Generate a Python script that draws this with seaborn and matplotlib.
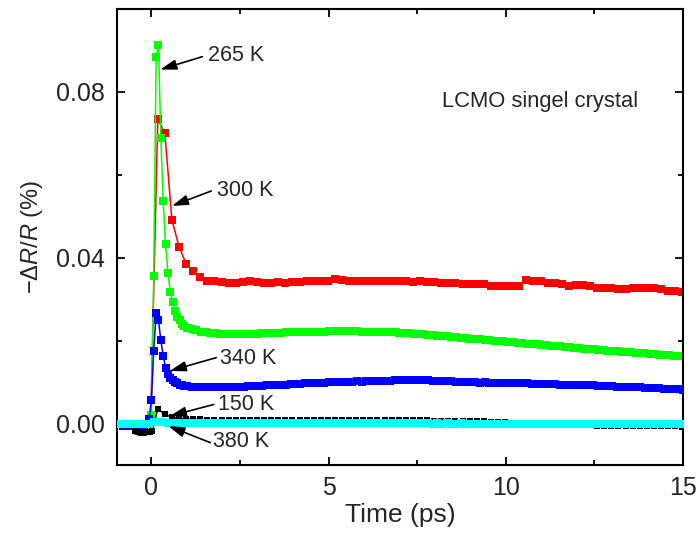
import numpy as np
import pandas as pd
import matplotlib
matplotlib.use("Agg")
import matplotlib.pyplot as plt
import seaborn as sns

# ---------------- data ----------------
# 300 K (red): time grid step 0.2 ps
t_300K = np.round(np.arange(80) * 0.2 - 0.82, 3)
v_300K = [0.0000, 0.0000, 0.0000, 0.0000, 0.0005, 0.0735, 0.0700, 0.0491, 0.0427, 0.0385,
          0.0367, 0.0354, 0.0345, 0.0344, 0.0341, 0.0340, 0.0340, 0.0341, 0.0343, 0.0341,
          0.0340, 0.0339, 0.0341, 0.0339, 0.0342, 0.0342, 0.0343, 0.0343, 0.0343, 0.0345,
          0.0348, 0.0346, 0.0344, 0.0344, 0.0344, 0.0344, 0.0344, 0.0344, 0.0344, 0.0344,
          0.0343, 0.0342, 0.0344, 0.0341, 0.0342, 0.0340, 0.0339, 0.0338, 0.0337, 0.0336,
          0.0336, 0.0336, 0.0333, 0.0331, 0.0333, 0.0333, 0.0331, 0.0347, 0.0345, 0.0344,
          0.0339, 0.0339, 0.0337, 0.0333, 0.0335, 0.0335, 0.0332, 0.0327, 0.0327, 0.0327,
          0.0325, 0.0325, 0.0326, 0.0326, 0.0327, 0.0327, 0.0325, 0.0320, 0.0319, 0.0317]

# 265 K (green) and 340 K (blue): shared time grid
t_dense = np.round(np.concatenate([[-0.8, -0.6, -0.4, -0.2],
                                   np.arange(-1, 16) / 15,
                                   1 + np.arange(1, 106) * 2 / 15]), 4)
v_265K = [0.0000, 0.0000, -0.0002, 0.0000,
          0.0003, 0.0020, 0.0356, 0.0885, 0.0914, 0.0690, 0.0537, 0.0434, 0.0364, 0.0317,
          0.0292, 0.0272, 0.0258, 0.0249, 0.0241, 0.0235, 0.0231,
          0.0228, 0.0225, 0.0222, 0.0220, 0.0219, 0.0218, 0.0217, 0.0216, 0.0216, 0.0216, 0.0216, 0.0216, 0.0217, 0.0217, 0.0217,
          0.0218, 0.0218, 0.0218, 0.0219, 0.0219, 0.0220, 0.0220, 0.0221, 0.0221, 0.0221, 0.0222, 0.0222, 0.0222, 0.0222, 0.0223,
          0.0223, 0.0223, 0.0223, 0.0223, 0.0223, 0.0223, 0.0222, 0.0222, 0.0222, 0.0222, 0.0221, 0.0221, 0.0220, 0.0220, 0.0219,
          0.0218, 0.0218, 0.0217, 0.0216, 0.0215, 0.0214, 0.0213, 0.0212, 0.0211, 0.0210, 0.0209, 0.0208, 0.0207, 0.0206, 0.0205,
          0.0204, 0.0203, 0.0202, 0.0201, 0.0200, 0.0199, 0.0198, 0.0197, 0.0196, 0.0195, 0.0194, 0.0193, 0.0192, 0.0191, 0.0190,
          0.0189, 0.0188, 0.0187, 0.0186, 0.0185, 0.0184, 0.0183, 0.0182, 0.0181, 0.0180, 0.0179, 0.0178, 0.0177, 0.0176, 0.0175,
          0.0174, 0.0173, 0.0172, 0.0172, 0.0171, 0.0170, 0.0169, 0.0168, 0.0167, 0.0166, 0.0166, 0.0165, 0.0164, 0.0163, 0.0162]
v_340K = [-0.0007, -0.0007, -0.0008, -0.0006,
          0.0010, 0.0056, 0.0175, 0.0266, 0.0250, 0.0201, 0.0164, 0.0135, 0.0120, 0.0111,
          0.0105, 0.0100, 0.0097, 0.0094, 0.0092, 0.0091, 0.0090,
          0.0089, 0.0089, 0.0088, 0.0088, 0.0088, 0.0088, 0.0088, 0.0088, 0.0089, 0.0088, 0.0089, 0.0089, 0.0090, 0.0090, 0.0091,
          0.0091, 0.0092, 0.0092, 0.0093, 0.0094, 0.0094, 0.0095, 0.0096, 0.0096, 0.0097, 0.0098, 0.0098, 0.0099, 0.0099, 0.0100,
          0.0100, 0.0100, 0.0101, 0.0101, 0.0101, 0.0102, 0.0101, 0.0102, 0.0102, 0.0103, 0.0102, 0.0103, 0.0103, 0.0104, 0.0104,
          0.0104, 0.0104, 0.0105, 0.0104, 0.0104, 0.0104, 0.0103, 0.0103, 0.0103, 0.0102, 0.0102, 0.0101, 0.0101, 0.0101, 0.0100,
          0.0100, 0.0099, 0.0100, 0.0099, 0.0099, 0.0098, 0.0098, 0.0098, 0.0097, 0.0098, 0.0097, 0.0097, 0.0096, 0.0096, 0.0096,
          0.0095, 0.0096, 0.0095, 0.0094, 0.0094, 0.0094, 0.0093, 0.0093, 0.0092, 0.0092, 0.0092, 0.0091, 0.0091, 0.0090, 0.0090,
          0.0089, 0.0089, 0.0088, 0.0088, 0.0087, 0.0087, 0.0086, 0.0086, 0.0085, 0.0085, 0.0084, 0.0084, 0.0083, 0.0083, 0.0082]

# 150 K (black): dense before zero, then 0.2 ps steps
t_150K = np.round(np.concatenate([[-0.45, -0.37, -0.29, -0.21, -0.13, -0.05, 0.03],
                                  np.arange(75) * 0.2 + 0.18]), 3)
v_150K = [-0.0019, -0.0021, -0.0022, -0.0022, -0.0021, -0.0020, -0.0017,
          0.0036, 0.0022, 0.0015, 0.0012, 0.0011, 0.0010, 0.0010,
          0.0009, 0.0009, 0.0009, 0.0009, 0.0008, 0.0009, 0.0008, 0.0008, 0.0009, 0.0008,
          0.0008, 0.0008, 0.0009, 0.0008, 0.0008, 0.0008, 0.0008, 0.0009, 0.0008, 0.0008,
          0.0008, 0.0008, 0.0008, 0.0008, 0.0008, 0.0008, 0.0008, 0.0008, 0.0008, 0.0008,
          0.0008, 0.0008, 0.0007, 0.0007, 0.0007, 0.0007, 0.0006, 0.0006, 0.0005, 0.0005,
          0.0004, 0.0004, 0.0003, 0.0002, 0.0001, 0.0001, 0.0000, -0.0001, -0.0002, -0.0002,
          -0.0003, -0.0003, -0.0004, -0.0004, -0.0004, -0.0005, -0.0005, -0.0005, -0.0006, -0.0006,
          -0.0006, -0.0006, -0.0007, -0.0007, -0.0007, -0.0007, -0.0007, -0.0008]

# 380 K (cyan)
t_380K = np.round(-13 / 15 + np.arange(120) * 2 / 15, 4)
v_380K = [-0.0002, -0.0002, -0.0002, -0.0001, -0.0001, -0.0001, 0.0000, 0.0003, 0.0004, 0.0003, 0.0002, 0.0002, 0.0001, 0.0001, 0.0001,
          0.0001, 0.0001, 0.0001, 0.0001, 0.0001, 0.0001, 0.0001, 0.0001, 0.0001, 0.0001, 0.0001, 0.0001, 0.0001, 0.0001, 0.0001,
          0.0001, 0.0001, 0.0001, 0.0001, 0.0001, 0.0001, 0.0001, 0.0001, 0.0001, 0.0001, 0.0001, 0.0001, 0.0001, 0.0001, 0.0001,
          0.0001, 0.0001, 0.0001, 0.0001, 0.0001, 0.0001, 0.0001, 0.0001, 0.0001, 0.0001, 0.0001, 0.0001, 0.0001, 0.0001, 0.0001,
          0.0001, 0.0001, 0.0001, 0.0001, 0.0001, 0.0001, 0.0000, 0.0001, 0.0000, 0.0001, 0.0000, 0.0000, 0.0001, 0.0000, 0.0000,
          0.0000, 0.0000, 0.0000, 0.0000, 0.0000, 0.0000, 0.0000, 0.0000, 0.0000, 0.0000, 0.0000, 0.0000, 0.0000, 0.0000, 0.0000,
          0.0000, 0.0000, 0.0000, 0.0000, 0.0000, 0.0000, 0.0000, 0.0000, 0.0000, 0.0000, 0.0000, 0.0000, 0.0000, 0.0000, 0.0000,
          0.0000, 0.0000, 0.0000, 0.0000, 0.0000, 0.0000, 0.0000, 0.0000, 0.0000, 0.0000, 0.0000, 0.0000, 0.0000, 0.0000, 0.0000]

labels = ["300 K", "265 K", "340 K", "150 K", "380 K"]
x_ticks = [0, 5, 10, 15]
y_ticks = [0.00, 0.04, 0.08]
y_tick_labels = ["0.00", "0.04", "0.08"]

# ---------------- style ----------------
sns.set_style("ticks")
plt.rcParams["font.family"] = ["Liberation Sans", "DejaVu Sans"]
plt.rcParams["mathtext.fontset"] = "custom"
plt.rcParams["mathtext.rm"] = "Liberation Sans"
plt.rcParams["mathtext.it"] = "Liberation Sans:italic"

fig = plt.figure(figsize=(6.99, 5.38), dpi=100)
ax = fig.add_axes([117 / 699, 1 - 465 / 538, 566 / 699, 456 / 538])

series = [
    (t_300K, v_300K, "#ff0000", 5.3, 1),
    (t_dense, v_265K, "#00ff00", 5.6, 2),
    (t_dense, v_340K, "#0000ff", 5.6, 3),
    (t_150K, v_150K, "#000000", 5.0, 4),
    (t_380K, v_380K, "#00ffff", 5.2, 5),
]
for t, v, c, ms, z in series:
    sns.lineplot(x=t, y=v, ax=ax, color=c, marker="s", markersize=ms,
                 markeredgewidth=0, linewidth=1.1, estimator=None, sort=False,
                 zorder=z)

ax.set_xlim(-0.97, 15)
ax.set_ylim(-0.01, 0.1)
ax.set_xticks(x_ticks)
ax.set_xticks([2.5, 7.5, 12.5], minor=True)
ax.set_yticks(y_ticks)
ax.set_yticklabels(y_tick_labels)
ax.set_yticks([0.02, 0.06], minor=True)

for s in ax.spines.values():
    s.set_visible(True)
    s.set_linewidth(1.5)
    s.set_color("black")
ax.tick_params(which="both", direction="in", top=True, right=True,
               width=1.3, color="black")
ax.tick_params(which="major", length=6, labelsize=18)
ax.tick_params(which="minor", length=3.5)
ax.tick_params(axis="x", which="major", pad=8)
ax.tick_params(axis="y", which="major", pad=9)

ax.set_xlabel("Time (ps)", fontsize=19, labelpad=2)
ax.set_ylabel("\u2212\u0394$\\mathit{R}$/$\\mathit{R}$ (%)", fontsize=17, labelpad=8)

# annotations (label, text pos, arrow tail, arrow head)
ann = [
    ("265 K", (1.61, 0.0887), (1.44, 0.0885), (0.25, 0.0854)),
    ("300 K", (1.85, 0.0563), (1.69, 0.0561), (0.58, 0.0525)),
    ("340 K", (1.93, 0.0156), (1.83, 0.0159), (0.52, 0.0127)),
    ("150 K", (1.87, 0.0046), (1.76, 0.0046), (0.52, 0.0018)),
    ("380 K", (1.75, -0.0044), (1.66, -0.0046), (0.48, -0.0006)),
]
for lab, tp, tail, head in ann:
    ax.text(tp[0], tp[1], lab, ha="left", va="center", fontsize=15.5, zorder=10)
    ax.annotate("", xy=head, xytext=tail,
                arrowprops=dict(arrowstyle="-|>,head_length=0.7,head_width=0.22",
                                color="black", lw=1.2, mutation_scale=14,
                                shrinkA=0, shrinkB=0), zorder=10)

ax.text(8.2, 0.0776, "LCMO singel crystal", ha="left", va="center", fontsize=15.8)

fig.savefig("out.png", dpi=100)
